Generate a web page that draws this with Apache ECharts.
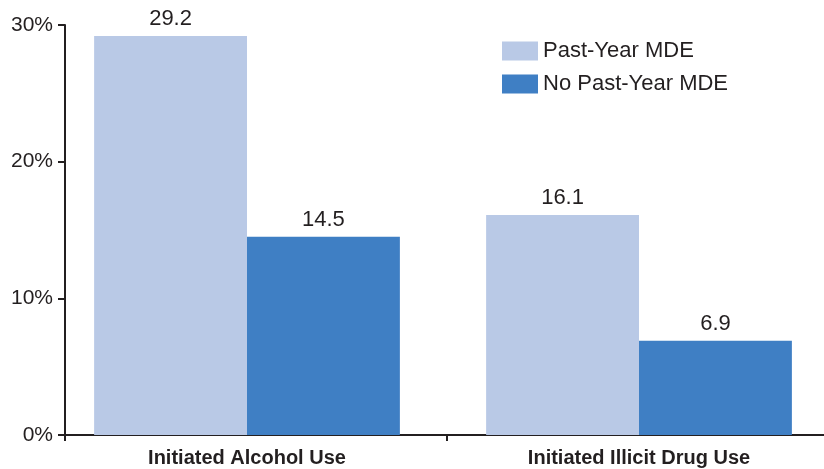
<!DOCTYPE html>
<html>
<head>
<meta charset="utf-8">
<script src="https://cdn.jsdelivr.net/npm/echarts@6/dist/echarts.min.js"></script>
<style>
  html, body { margin: 0; padding: 0; background: #fff; }
  #chart { width: 824px; height: 469px; }
</style>
</head>
<body>
<div id="chart"></div>
<script>
var categories = ['Initiated Alcohol Use', 'Initiated Illicit Drug Use']
var pastYear = [29.2, 16.1]
var noPastYear = [14.5, 6.9]
var yTicks = [0, 10, 20, 30]

var chart = echarts.init(document.getElementById('chart'))
var font = '"Liberation Sans", Arial, sans-serif'
var ink = '#231f20'
var valueLabel = { show: true, position: 'top', fontFamily: font, fontSize: 22, color: ink, distance: 6 }

chart.setOption({
  animation: false,
  // grid 0 draws the axes, grid 1 holds the bars (groups sit a little left of the category centres)
  grid: [
    { left: 65, top: 25, bottom: 34, width: 764, outerBoundsMode: 'none' },
    { left: 51, top: 25, bottom: 34, width: 784, outerBoundsMode: 'none' }
  ],
  legend: {
    left: 497, top: 35, orient: 'vertical', itemGap: 11,
    itemWidth: 36, itemHeight: 19, icon: 'rect',
    textStyle: { fontFamily: font, fontSize: 22, color: ink, padding: [0, 0, 0, 0] }
  },
  xAxis: [
    {
      type: 'category', gridIndex: 0, data: categories,
      axisLine: { lineStyle: { color: ink, width: 2 } },
      axisTick: { show: true, length: 6, lineStyle: { color: ink, width: 2 } },
      axisLabel: { show: false }
    },
    {
      type: 'category', gridIndex: 1, data: categories,
      axisLine: { show: false }, axisTick: { show: false },
      axisLabel: { fontFamily: font, fontSize: 20, fontWeight: 'bold', color: ink, margin: 13 }
    }
  ],
  yAxis: [
    {
      type: 'value', gridIndex: 0,
      min: yTicks[0], max: yTicks[yTicks.length - 1], interval: 10,
      splitLine: { show: false },
      axisLine: { show: true, lineStyle: { color: ink, width: 2 } },
      axisTick: { show: true, length: 7, lineStyle: { color: ink, width: 2 } },
      axisLabel: { fontFamily: font, fontSize: 21, color: ink, margin: 12, formatter: '{value}%' }
    },
    {
      type: 'value', gridIndex: 1,
      min: yTicks[0], max: yTicks[yTicks.length - 1], interval: 10,
      show: false
    }
  ],
  series: [
    {
      name: 'Past-Year MDE', type: 'bar', data: pastYear,
      xAxisIndex: 1, yAxisIndex: 1,
      barGap: 0, barCategoryGap: '22%',
      itemStyle: { color: '#b9c9e6' },
      label: valueLabel
    },
    {
      name: 'No Past-Year MDE', type: 'bar', data: noPastYear,
      xAxisIndex: 1, yAxisIndex: 1,
      itemStyle: { color: '#3f7fc4' },
      label: valueLabel
    }
  ]
})
</script>
</body>
</html>
